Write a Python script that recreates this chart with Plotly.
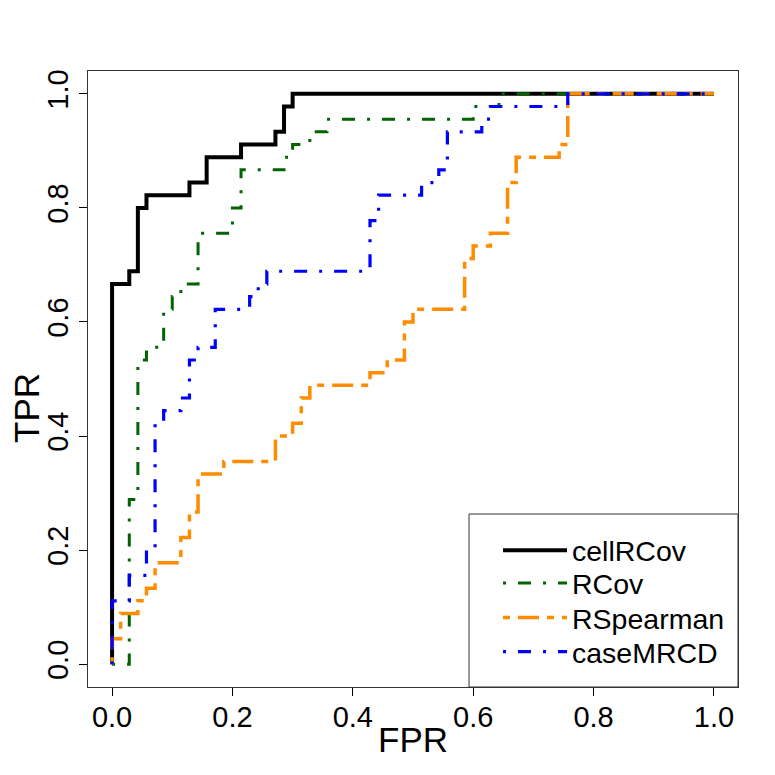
import plotly.graph_objects as go

# ROC step vertices: counts of false positives (out of 70 negatives)
# and true positives (out of 45 positives)
N_NEG = 70
N_POS = 45

methods = ["cellRCov", "RCov", "RSpearman", "caseMRCD"]

cellRCov_fp = [0, 0, 2, 3, 4, 9, 11, 15, 19, 20, 21, 70]
cellRCov_tp = [0, 30, 31, 36, 37, 38, 40, 41, 42, 44, 45, 45]

RCov_fp = [0, 2, 3, 4, 6, 7, 8, 10, 14, 15, 20, 21, 23, 25, 42, 45, 70]
RCov_tp = [0, 13, 24, 25, 28, 29, 30, 34, 36, 39, 40, 41, 42, 43, 44, 45, 45]

RSpearman_fp = [0, 0, 1, 3, 4, 5, 8, 9, 10, 13, 19, 21, 22, 23, 30, 32, 34, 35,
                41, 42, 44, 46, 47, 52, 53, 70]
RSpearman_tp = [0, 2, 4, 5, 6, 8, 10, 12, 15, 16, 18, 19, 21, 22, 23, 24, 27, 28,
                32, 33, 34, 38, 40, 41, 45, 45]

caseMRCD_fp = [0, 0, 2, 4, 5, 6, 8, 9, 10, 12, 16, 17, 18, 30, 31, 36, 38, 39,
               43, 44, 53, 70]
caseMRCD_tp = [0, 5, 7, 9, 19, 20, 21, 24, 25, 28, 29, 30, 31, 35, 37, 38, 39, 42,
               43, 44, 45, 45]

tick_vals = [0.0, 0.2, 0.4, 0.6, 0.8, 1.0]
tick_text = ["0.0", "0.2", "0.4", "0.6", "0.8", "1.0"]

x_title = "FPR"
y_title = "TPR"

series = [
    (methods[0], cellRCov_fp, cellRCov_tp, "#000000", 4, "solid"),
    (methods[1], RCov_fp, RCov_tp, "#006400", 3, "3px,12px,13px,12px"),
    (methods[2], RSpearman_fp, RSpearman_tp, "#FF8C00", 3.5, "7px,8px,21px,8px"),
    (methods[3], caseMRCD_fp, caseMRCD_tp, "#0000FF", 3.2, "3px,12px,13px,12px"),
]

FONT = "Liberation Sans, Arial, Helvetica, sans-serif"

W = 775
H = 775

fig = go.Figure()
legend_ids = ["legend", "legend2", "legend3", "legend4"]
for (name, fp, tp, color, width, dash), lid in zip(series, legend_ids):
    fig.add_trace(go.Scatter(
        x=[v / N_NEG for v in fp],
        y=[v / N_POS for v in tp],
        mode="lines",
        name=name,
        legend=lid,
        line=dict(color=color, width=width, dash=dash, shape="hv"),
    ))

axis_common = dict(
    range=[-0.04, 1.04],
    tickvals=tick_vals,
    ticktext=tick_text,
    ticks="outside",
    ticklen=8,
    tickwidth=1,
    tickcolor="black",
    showgrid=False,
    zeroline=False,
    showline=True,
    linecolor="#333333",
    linewidth=1,
    mirror=True,
    tickfont=dict(size=29, family=FONT, color="black"),
)

legend_y = [0.2211, 0.1680, 0.1120, 0.0568]
legend_common = dict(
    x=0.6308, xanchor="left", yanchor="middle",
    bgcolor="rgba(0,0,0,0)", borderwidth=0,
    font=dict(size=28.5, family=FONT, color="black"),
    itemwidth=64,
)
legends = {lid: dict(legend_common, y=yv) for lid, yv in zip(legend_ids, legend_y)}

fig.update_layout(
    width=W,
    height=H,
    autosize=False,
    margin=dict(l=88, r=37, t=71, b=88),
    plot_bgcolor="white",
    paper_bgcolor="white",
    font=dict(family=FONT, size=28, color="black"),
    xaxis=dict(axis_common, ticklabelstandoff=-4),
    yaxis=dict(axis_common, tickangle=-90, ticklabelstandoff=-1),
    showlegend=True,
    shapes=[dict(
        type="rect", xref="paper", yref="paper",
        x0=0.5862, x1=1.0, y0=0.0, y1=0.2808,
        line=dict(color="#333333", width=1), fillcolor="white", layer="below",
    )],
    annotations=[
        dict(text=x_title, xref="paper", yref="paper", x=0.5, y=-0.0860,
             xanchor="center", yanchor="middle", showarrow=False,
             font=dict(size=35, family=FONT, color="black")),
        dict(text=y_title, xref="paper", yref="paper", x=-0.0954, y=0.4529,
             xanchor="center", yanchor="middle", showarrow=False, textangle=-90,
             font=dict(size=35, family=FONT, color="black")),
    ],
    **legends,
)

fig.write_html(
    "out.html",
    config={"displayModeBar": False},
    post_script="document.body.style.margin='0px';document.body.style.overflow='hidden';",
)
